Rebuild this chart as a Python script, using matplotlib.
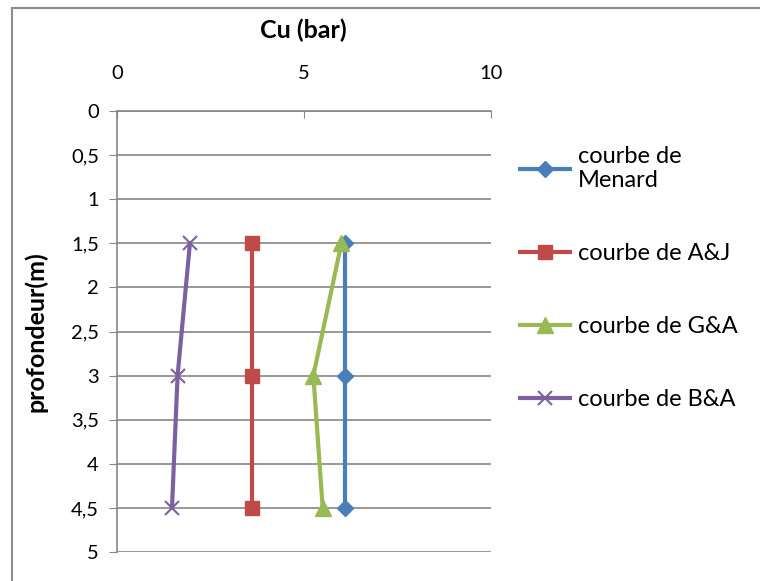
import numpy as np
import matplotlib.pyplot as plt
from matplotlib.patches import Rectangle

plt.rcParams['font.family'] = ['Lato', 'DejaVu Sans']

# data
profondeur = [1.5, 3.0, 4.5]
cu_menard = [6.1, 6.1, 6.1]
cu_aj = [3.6, 3.6, 3.6]
cu_ga = [6.0, 5.25, 5.5]
cu_ba = [1.95, 1.62, 1.47]

y_ticks = [0, 0.5, 1, 1.5, 2, 2.5, 3, 3.5, 4, 4.5, 5]
y_labels = ["0", "0,5", "1", "1,5", "2", "2,5", "3", "3,5", "4", "4,5", "5"]
x_ticks = [0, 5, 10]

fig = plt.figure(figsize=(7.6, 5.81), dpi=100)
ax = fig.add_axes([117/760, 1-552/581, (491-117)/760, (552-111)/581])

# chart frame (left and top only visible)
fig.patches.append(Rectangle((12/760, -0.1), 1.2, 1-7.5/581+0.1, transform=fig.transFigure,
                             fill=False, edgecolor='#8c8c8c', lw=1.5))

grey = '#868686'
ax.plot(cu_menard, profondeur, color='#4A7EBB', lw=3, marker='D', ms=8, label='courbe de\nMenard')
ax.plot(cu_aj, profondeur, color='#BE4B48', lw=3, marker='s', ms=10, label='courbe de A&J')
ax.plot(cu_ga, profondeur, color='#98B954', lw=3, marker='^', ms=11, label='courbe de G&A')
ax.plot(cu_ba, profondeur, color='#7D60A0', lw=3, marker='x', ms=10, mew=1.5, label='courbe de B&A')

ax.set_xlim(0, 10)
ax.set_ylim(5, 0)
ax.set_yticks(y_ticks)
ax.set_yticklabels(y_labels)
ax.set_xticks(x_ticks)
ax.xaxis.tick_top()
ax.tick_params(axis='x', direction='in', length=5, color=grey, labelsize=14.5, pad=21)
ax.tick_params(axis='y', direction='out', length=6, color=grey, labelsize=14.5, pad=7)
ax.yaxis.grid(True, color=grey, lw=1.2)
ax.set_axisbelow(True)
for s in ['right', 'bottom']:
    ax.spines[s].set_visible(False)
for s in ['left', 'top']:
    ax.spines[s].set_color(grey)
    ax.spines[s].set_linewidth(1.2)

ax.set_xlabel('Cu (bar)', fontsize=18, fontweight='bold')
ax.xaxis.set_label_position('top')
ax.xaxis.set_label_coords(0.497, 1.166)
ax.set_ylabel('profondeur(m)', fontsize=18, fontweight='bold')
ax.yaxis.set_label_coords(-0.186, 0.5)

fig.legend(loc='upper left', bbox_to_anchor=(520/760, 1-146/581), frameon=False, fontsize=17,
           borderpad=0, borderaxespad=0, handlelength=2.1, handletextpad=0.35, labelspacing=2.2)

plt.savefig('out.png', dpi=100)
